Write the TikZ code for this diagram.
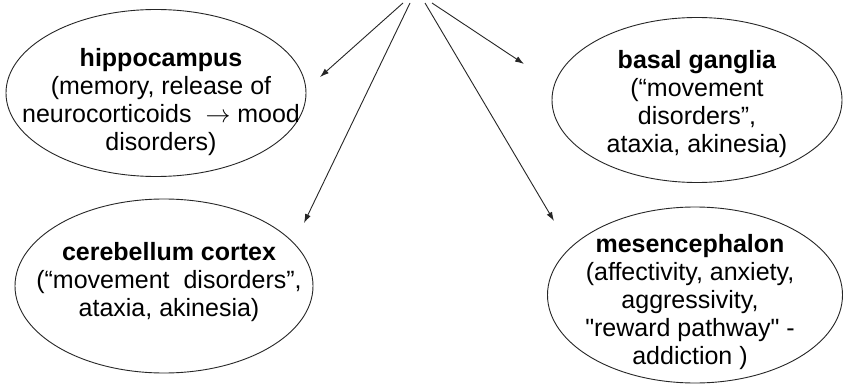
\documentclass[tikz,border=0pt]{standalone}
\usepackage{fontspec}
\setmainfont{Liberation Sans}[Ligatures=TeXOff]
\usetikzlibrary{shapes.geometric,arrows.meta}
\begin{document}
\begin{tikzpicture}[x=1pt,y=-1pt,
  region/.style={draw=black!85, line width=0.9pt, ellipse, inner sep=0pt},
  label/.style={align=center, inner sep=0pt, font=\fontsize{25}{28}\selectfont},
  link/.style={draw=black!85, line width=0.9pt, -{Latex[length=9pt,width=6pt]}}]
\useasboundingbox (0,0) rectangle (843,385);
\fill[white] (0,0) rectangle (843,385);
% ellipses
\node[region, minimum width=300pt, minimum height=167pt] (hipE) at (156,93) {};
\node[region, minimum width=290pt, minimum height=165pt] (basE) at (697,100) {};
\node[region, minimum width=298pt, minimum height=174pt] (cerE) at (164,286) {};
\node[region, minimum width=295pt, minimum height=176pt] (mesE) at (695,295) {};
% texts
\node[label] (hipT) at (161,102) {\textbf{hippocampus}\\(memory, release of\\neurocorticoids\ \ $\rightarrow$ mood\\disorders)};
\node[label] (basT) at (697,104) {\textbf{basal ganglia}\\(“movement\\disorders”,\\ataxia, akinesia)};
\node[label] (cerT) at (169,282) {\textbf{cerebellum cortex}\\(“movement\ \ disorders”,\\ataxia, akinesia)};
\node[label] (mesT) at (690,302) {\textbf{mesencephalon}\\(affectivity, anxiety,\\aggressivity,\\"reward pathway" -\\addiction )};
% arrow coordinates
\coordinate (s1) at (403,3);
\coordinate (s2) at (410,3);
\coordinate (s3) at (425,3);
\coordinate (s4) at (432,3);
\coordinate (e1) at (320,77);
\coordinate (e2) at (304,223);
\coordinate (e3) at (554,221);
\coordinate (e4) at (524,64);
\draw[link] (s1) -- (e1);
\draw[link] (s2) -- (e2);
\draw[link] (s3) -- (e3);
\draw[link] (s4) -- (e4);
\end{tikzpicture}
\end{document}
